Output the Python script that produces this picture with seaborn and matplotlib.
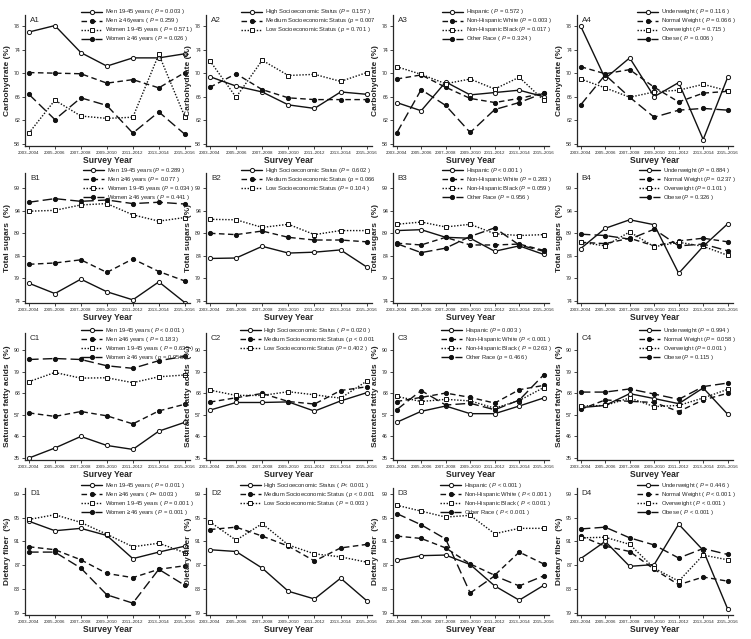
import numpy as np
import pandas as pd
import matplotlib
matplotlib.use("Agg")
import matplotlib.pyplot as plt
import seaborn as sns

years = ["2003–2004", "2005–2006", "2007–2008", "2009–2010",
         "2011–2012", "2013–2014", "2015–2016"]

# row A: carbohydrate (%)
a1_men_young = [77.0, 78.1, 73.5, 71.2, 72.6, 72.6, 73.3]
a1_men_old = [70.1, 70.0, 69.9, 68.3, 68.9, 67.5, 70.1]
a1_women_young = [59.8, 65.4, 62.7, 62.3, 62.5, 73.2, 62.6]
a1_women_old = [66.4, 62.1, 65.8, 64.5, 59.8, 63.4, 59.6]
a2_high = [69.4, 67.8, 66.8, 64.6, 64.0, 66.8, 66.4]
a2_medium = [67.6, 69.9, 67.2, 65.8, 65.5, 65.5, 65.5]
a2_low = [72.1, 65.9, 72.2, 69.6, 69.8, 68.6, 70.1]
a3_hispanic = [65.0, 63.6, 68.5, 66.3, 66.7, 67.1, 66.0]
a3_nh_white = [69.0, 69.7, 67.6, 65.7, 65.0, 65.7, 66.6]
a3_nh_black = [71.1, 69.8, 68.2, 69.0, 67.3, 69.3, 65.4]
a3_other = [59.8, 67.2, 64.5, 59.9, 63.8, 65.0, 66.6]
a4_under = [78.0, 69.1, 72.6, 66.0, 68.4, 58.7, 69.3]
a4_normal = [71.1, 69.9, 70.6, 67.6, 65.1, 66.6, 66.9]
a4_over = [69.0, 67.5, 65.9, 66.8, 67.1, 68.1, 67.0]
a4_obese = [64.6, 69.7, 65.9, 62.5, 63.7, 64.0, 63.7]

# row B: total sugars (%)
b1_men_young = [77.9, 75.6, 78.8, 76.0, 74.2, 78.2, 73.6]
b1_men_old = [82.1, 82.4, 83.1, 80.3, 83.3, 80.5, 78.4]
b1_women_young = [93.9, 94.1, 95.3, 95.6, 93.1, 91.7, 92.5]
b1_women_old = [95.9, 96.7, 96.1, 96.4, 95.6, 95.9, 95.5]
b2_high = [83.4, 83.5, 86.1, 84.6, 84.8, 85.3, 81.5]
b2_medium = [89.0, 88.7, 89.5, 88.1, 87.5, 87.5, 87.1]
b2_low = [92.1, 92.0, 90.3, 91.0, 88.7, 89.6, 89.6]
b3_hispanic = [89.6, 89.8, 88.1, 87.9, 85.0, 86.2, 84.3]
b3_nh_white = [86.8, 86.4, 88.1, 86.4, 86.4, 86.6, 85.2]
b3_nh_black = [91.0, 91.5, 90.4, 91.0, 88.9, 88.5, 88.7]
b3_other = [86.7, 84.7, 85.7, 88.3, 90.2, 86.4, 85.0]
b4_under = [85.6, 90.1, 92.0, 90.9, 80.1, 86.1, 91.1]
b4_normal = [87.0, 86.7, 87.9, 86.2, 87.3, 87.9, 87.1]
b4_over = [87.0, 86.2, 89.3, 86.0, 87.0, 86.1, 84.1]
b4_obese = [88.8, 88.5, 87.7, 89.9, 86.2, 86.6, 85.1]

# row C: saturated fatty acids (%)
c1_men_young = [35.0, 40.1, 46.0, 41.4, 39.4, 48.7, 53.2]
c1_men_old = [58.0, 56.2, 58.7, 56.5, 52.4, 59.0, 62.4]
c1_women_young = [73.9, 78.6, 75.7, 75.9, 73.4, 76.4, 77.3]
c1_women_old = [85.2, 85.7, 85.2, 82.0, 80.7, 84.6, 86.8]
c2_high = [59.4, 63.3, 63.3, 63.6, 58.9, 64.1, 68.3]
c2_medium = [63.5, 65.7, 67.9, 63.8, 62.5, 69.4, 71.3]
c2_low = [69.6, 66.9, 66.9, 68.8, 67.2, 65.5, 74.2]
c3_hispanic = [53.2, 58.8, 61.5, 57.6, 57.6, 61.5, 65.6]
c3_nh_white = [63.8, 65.9, 68.1, 65.9, 63.0, 69.8, 72.0]
c3_nh_black = [66.4, 63.8, 64.9, 64.1, 60.4, 64.3, 70.9]
c3_other = [59.6, 69.4, 62.0, 62.9, 59.6, 64.5, 77.4]
c4_under = [60.7, 61.8, 67.8, 65.3, 62.7, 70.7, 57.3]
c4_normal = [59.8, 64.6, 63.9, 63.3, 58.7, 64.6, 68.0]
c4_over = [61.5, 61.8, 65.6, 61.2, 61.8, 65.6, 70.0]
c4_obese = [68.6, 68.6, 70.2, 67.6, 64.9, 71.4, 73.2]

# row D: dietary fiber (%)
d1_men_young = [94.4, 92.8, 93.2, 92.0, 88.1, 89.2, 90.2]
d1_men_old = [90.1, 89.6, 87.9, 85.6, 84.9, 86.3, 86.9]
d1_women_young = [94.7, 95.5, 94.2, 92.2, 90.1, 90.7, 89.1]
d1_women_old = [89.2, 89.2, 86.5, 82.0, 80.6, 86.3, 83.6]
d2_high = [89.6, 89.3, 86.5, 82.6, 81.3, 84.8, 81.0]
d2_medium = [93.0, 93.4, 91.9, 90.2, 87.7, 89.9, 90.5]
d2_low = [94.3, 91.2, 94.0, 90.4, 88.9, 88.4, 87.5]
d3_hispanic = [87.8, 88.6, 88.7, 87.1, 83.5, 81.1, 83.6]
d3_nh_white = [91.9, 91.5, 89.9, 87.2, 85.3, 89.2, 87.2]
d3_nh_black = [97.1, 96.1, 95.1, 95.4, 92.3, 93.2, 93.2]
d3_other = [95.7, 93.8, 91.4, 82.3, 85.2, 83.5, 85.2]
d4_under = [88.1, 91.0, 86.8, 87.1, 93.9, 89.5, 79.6]
d4_normal = [91.9, 90.2, 89.3, 86.3, 83.7, 85.0, 84.3]
d4_over = [91.6, 91.7, 90.5, 86.5, 84.3, 88.7, 87.9]
d4_obese = [93.1, 93.4, 91.6, 90.4, 88.2, 89.8, 88.8]

row_ylabels = ["Carbohydrate (%)", "Total sugars  (%)",
               "Saturated fatty acids  (%)", "Dietary fiber  (%)"]
row_ticks = [[58, 62, 66, 70, 74, 78], [74, 79, 84, 89, 94, 99],
             [35, 46, 57, 68, 79, 90], [79, 83, 87, 91, 95, 99]]
row_ylims = [(57.6, 79.9), (73.5, 102.4), (34.0, 98.7), (78.6, 100.0)]

panels = {
    "A1": ([a1_men_young, a1_men_old, a1_women_young, a1_women_old],
           ["Men 19-45 years ( $P$ = 0.003 )", "Men ≥ 46years ( $P$ = 0.259 )",
            "Women 19-45 years ( $P$ = 0.571 )", "Women ≥46 years ( $P$ = 0.026 )"]),
    "A2": ([a2_high, a2_medium, a2_low],
           ["High Socioeconomic Status ($P$ = 0.157 )", "Medium Socioeconomic Status ($p$ = 0.007",
            "Low Socioeconomic Status ( $p$ = 0.701 )"]),
    "A3": ([a3_hispanic, a3_nh_white, a3_nh_black, a3_other],
           ["Hispanic ( $P$ = 0.572 )", "Non-Hispanic White ($P$ = 0.003 )",
            "Non-Hispanic Black ($P$ = 0.017 )", "Other Race ( $P$ = 0.324 )"]),
    "A4": ([a4_under, a4_normal, a4_over, a4_obese],
           ["Underweight ( $P$ = 0.116 )", "Normal Weight ( $P$ = 0.066 )",
            "Overweight ( $P$ = 0.715 )", "Obese ( $P$ = 0.006 )"]),
    "B1": ([b1_men_young, b1_men_old, b1_women_young, b1_women_old],
           ["Men 19-45 years ($P$ = 0.289 )", "Men ≥46 years ($P$ = 0.077 )",
            "Women 19-45 years ($P$ = 0.034 )", "Women ≥46 years ( $P$ = 0.441 )"]),
    "B2": ([b2_high, b2_medium, b2_low],
           ["High Socioeconomic Status ($P$ = 0.602 )", "Medium Socioeconomic Status ($p$ = 0.066",
            "Low Socioeconomic Status ($P$ = 0.104 )"]),
    "B3": ([b3_hispanic, b3_nh_white, b3_nh_black, b3_other],
           ["Hispanic ($P$ < 0.001 )", "Non-Hispanic White ($P$ = 0.283 )",
            "Non-Hispanic Black ($P$ = 0.059 )", "Other Race ($P$ = 0.956 )"]),
    "B4": ([b4_under, b4_normal, b4_over, b4_obese],
           ["Underweight ($P$ = 0.884 )", "Normal Weight ($P$ = 0.237 )",
            "Overweight ($P$ = 0.101 )", "Obese ($P$ = 0.326 )"]),
    "C1": ([c1_men_young, c1_men_old, c1_women_young, c1_women_old],
           ["Men 19-45 years ( $P$ < 0.001 )", "Men ≥46 years ( $P$ = 0.183 )",
            "Women 19-45 years ( $P$ = 0.635 )", "Women ≥46 years ( $p$ = 0.958 )"]),
    "C2": ([c2_high, c2_medium, c2_low],
           ["High Socioeconomic Status ( $P$ = 0.020 )", "Medium Socioeconomic Status ( $p$ < 0.001",
            "Low Socioeconomic Status ($P$ = 0.402 )"]),
    "C3": ([c3_hispanic, c3_nh_white, c3_nh_black, c3_other],
           ["Hispanic ($P$ = 0.003 )", "Non-Hispanic White ($P$ < 0.001 )",
            "Non-Hispanic Black ( $P$ = 0.263 )", "Other Race ($p$ = 0.466 )"]),
    "C4": ([c4_under, c4_normal, c4_over, c4_obese],
           ["Underweight ($P$ = 0.994 )", "Normal Weight ($P$ = 0.058 )",
            "Overweight ($P$ = 0.001 )", "Obese ($P$ = 0.115 )"]),
    "D1": ([d1_men_young, d1_men_old, d1_women_young, d1_women_old],
           ["Men 19-45 years ( $P$ = 0.001 )", "Men ≥46 years ( $P$= 0.003 )",
            "Women 19-45 years ( $P$ = 0.001 )", "Women ≥46 years ( $P$ = 0.001 )"]),
    "D2": ([d2_high, d2_medium, d2_low],
           ["High Socioeconomic Status ( $P$< 0.001 )", "Medium Socioeconomic Status ( $p$ < 0.001",
            "Low Socioeconomic Status ( $P$ = 0.003 )"]),
    "D3": ([d3_hispanic, d3_nh_white, d3_nh_black, d3_other],
           ["Hispanic ( $P$ < 0.001 )", "Non-Hispanic White ( $P$ < 0.001 )",
            "Non-Hispanic Black ( $P$ < 0.001 )", "Other Race ( $P$ < 0.001 )"]),
    "D4": ([d4_under, d4_normal, d4_over, d4_obese],
           ["Underweight ( $P$ = 0.446 )", "Normal Weight ( $P$ < 0.001 )",
            "Overweight ( $P$ < 0.001 )", "Obese ( $P$ < 0.001 )"]),
}

# line look for series 1..4
styles = [
    dict(linestyle="-", marker="o", mfc="white", ms=3.0),
    dict(linestyle=(0, (4, 2.5)), marker="o", mfc="#111111", ms=3.0),
    dict(linestyle=(0, (1, 1.2)), marker="s", mfc="white", ms=2.8),
    dict(linestyle=(0, (7, 3)), marker="o", mfc="#111111", ms=3.0),
]

sns.set_style("ticks")
plt.rcParams["font.family"] = ["Liberation Sans", "DejaVu Sans"]
plt.rcParams["mathtext.fontset"] = "custom"
plt.rcParams["mathtext.it"] = "Liberation Sans:italic"
plt.rcParams["mathtext.rm"] = "Liberation Sans"
plt.rcParams["mathtext.default"] = "it"

W, H = 751, 639
fig = plt.figure(figsize=(W / 100, H / 100), dpi=100)

col_left = [25, 206, 393, 577]
col_width = [165, 166, 155.6, 155.6]
row_top = [15, 173, 333, 488]
row_bot = [146, 303, 460, 615]

xs = np.arange(len(years))
for r, letter in enumerate("ABCD"):
    for c in range(4):
        name = f"{letter}{c + 1}"
        series, labels = panels[name]
        ax = fig.add_axes([col_left[c] / W, 1 - row_bot[r] / H,
                           col_width[c] / W, (row_bot[r] - row_top[r]) / H])
        for i, (vals, lab) in enumerate(zip(series, labels)):
            df = pd.DataFrame({"x": xs, "y": vals})
            st = styles[i]
            sns.lineplot(data=df, x="x", y="y", ax=ax, color="#111111",
                         linewidth=1.0, linestyle=st["linestyle"],
                         marker=st["marker"], markersize=st["ms"],
                         markerfacecolor=st["mfc"], markeredgecolor="#111111",
                         markeredgewidth=0.7, label=lab)
        ax.set_xlim(-0.15, 6.2)
        ax.set_ylim(*row_ylims[r])
        ax.set_xticks(xs)
        ax.set_xticklabels(years, fontsize=3.2)
        ax.set_yticks(row_ticks[r])
        ax.set_yticklabels([str(t) for t in row_ticks[r]], fontsize=3.8)
        ax.tick_params(length=2, width=0.6, pad=1.5)
        sns.despine(ax=ax)
        for sp in ("left", "bottom"):
            ax.spines[sp].set_linewidth(0.9)
        ax.set_xlabel("Survey Year", fontsize=6.2, fontweight="bold", labelpad=0.6)
        ax.set_ylabel(row_ylabels[r], fontsize=6, fontweight="bold", labelpad=2.5)
        ax.text(0.03, 0.985, name, transform=ax.transAxes, fontsize=5.8,
                va="top", ha="left")
        ax.legend(loc="upper right", bbox_to_anchor=(1.04, 1.08), fontsize=4.2,
                  frameon=False, handlelength=3.6, labelspacing=0.0,
                  handletextpad=0.5, borderpad=0.0, handleheight=0.45)

fig.savefig("out.png", dpi=100)
